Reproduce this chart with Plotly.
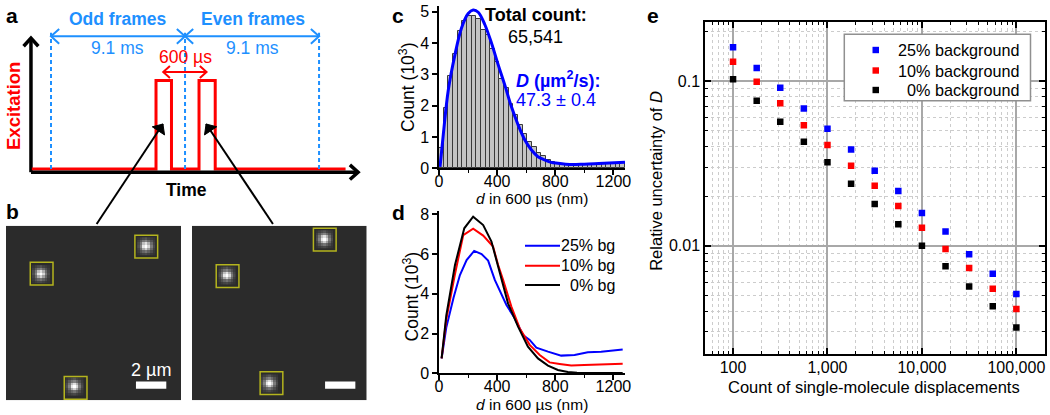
import math
import plotly.graph_objects as go

W, H = 1050, 415
FONT = "Liberation Sans"
BLUE, RED, BLACK = "#0000ff", "#ff0000", "#000000"
SKY = "#1e90ff"

# Panel a: timing schematic (ms, relative excitation)
frame_edges_ms = [0, 9.1, 18.2]
pulse_time_ms = [-1.3, 7.13, 7.13, 8.18, 8.18, 10.05, 10.05, 11.15, 11.15, 20.0]
pulse_level = [0, 0, 1, 1, 0, 0, 1, 1, 0, 0]
# Callout arrows from each pulse down to its image: tail, then head
callout_left_x = [3.10, 7.60]
callout_left_y = [-0.621, 0.508]
callout_right_x = [15.07, 10.53]
callout_right_y = [-0.621, 0.508]

# Panel b: fluorophore spots and boxes (micrometres)
spots_left_x = [2.29, 9.23, 4.50]
spots_left_y = [3.18, 1.34, 10.60]
spots_right_x = [8.77, 2.33, 5.14]
spots_right_y = [0.88, 3.27, 10.39]
boxes_left_x = [2.35, 9.25, 4.59]
boxes_left_y = [3.16, 1.38, 10.70]
boxes_right_x = [8.77, 2.35, 5.25]
boxes_right_y = [0.92, 3.32, 10.39]
# Brightness of a spot on the camera pixels around its centre
spot_brightness = [
    [0.05, 0.10, 0.15, 0.20, 0.12, 0.08, 0.05],
    [0.10, 0.22, 0.35, 0.42, 0.30, 0.18, 0.08],
    [0.15, 0.35, 0.70, 0.85, 0.62, 0.30, 0.12],
    [0.18, 0.42, 0.88, 1.00, 0.80, 0.38, 0.15],
    [0.12, 0.30, 0.60, 0.78, 0.55, 0.28, 0.10],
    [0.08, 0.18, 0.28, 0.35, 0.25, 0.15, 0.06],
    [0.04, 0.08, 0.12, 0.14, 0.10, 0.06, 0.04],
]

# Panel c: histogram and fit
hist_x = [16 + 32 * i for i in range(40)]
hist_y = [0.65, 1.92, 2.95, 3.66, 4.37, 4.70, 4.85, 4.85, 4.78, 4.42, 4.25, 3.80, 3.40, 2.85, 2.55, 2.05,
          1.70, 1.38, 1.10, 0.85, 0.68, 0.48, 0.38, 0.27, 0.20, 0.17, 0.14, 0.13, 0.13, 0.13, 0.13, 0.14,
          0.14, 0.15, 0.15, 0.16, 0.16, 0.17, 0.17, 0.17]
fit_x = [7, 30, 64, 110, 155, 201, 235, 270, 315, 361, 407, 452, 498, 544, 590, 635, 681, 727, 772, 818, 900, 1000, 1100, 1280]
fit_y = [0.05, 1.10, 2.50, 3.63, 4.48, 4.94, 5.05, 4.98, 4.59, 4.00, 3.31, 2.67, 1.97, 1.39, 0.91, 0.59, 0.37, 0.27, 0.19, 0.16, 0.12, 0.13, 0.15, 0.19]

# Panel d: curves
blue_x = [18, 50, 100, 144, 190, 242, 293, 338, 384, 464, 521, 578, 624, 670, 750, 841, 933, 1024, 1116, 1264]
blue_y = [0.75, 2.30, 3.80, 4.95, 5.70, 6.16, 6.00, 5.67, 4.70, 3.44, 2.77, 1.93, 1.68, 1.29, 1.09, 0.89, 0.92, 1.06, 1.09, 1.20]
red_x = [18, 50, 110, 167, 235, 304, 372, 407, 441, 498, 555, 624, 693, 761, 830, 910, 1000, 1100, 1264]
red_y = [0.75, 2.70, 5.00, 6.96, 7.28, 6.93, 6.38, 5.45, 4.70, 3.36, 2.27, 1.43, 0.92, 0.55, 0.47, 0.39, 0.42, 0.45, 0.48]
black_x = [18, 50, 110, 174, 235, 304, 361, 402, 441, 475, 544, 612, 681, 750, 818, 887, 950, 1000, 1100, 1264]
black_y = [0.75, 2.90, 5.45, 7.30, 7.88, 7.46, 6.63, 5.54, 4.53, 3.52, 2.35, 1.34, 0.75, 0.39, 0.17, 0.07, 0.03, 0.02, 0.01, 0.01]

# Panel e: uncertainty against count
counts = [100, 178, 316, 562, 1000, 1778, 3162, 5623, 10000, 17783, 31623, 56234, 100000]
bg25 = [0.160, 0.120, 0.0910, 0.0680, 0.0513, 0.0383, 0.0285, 0.0215, 0.0158, 0.01217, 0.00887, 0.00676, 0.00508]
bg10 = [0.131, 0.099, 0.0733, 0.0538, 0.0408, 0.0306, 0.0231, 0.0174, 0.01285, 0.00955, 0.00733, 0.00548, 0.00413]
bg0 = [0.1024, 0.0757, 0.0566, 0.0428, 0.0321, 0.0238, 0.0179, 0.01349, 0.0100, 0.0075, 0.00564, 0.00428, 0.00318]


def dx(a, b):
    return [a / W, b / W]


def dy(top, bottom):
    return [1 - bottom / H, 1 - top / H]


fig = go.Figure()
annotations = []
shapes = []


def label(px, py, text, size=17, color=BLACK, bold=False, angle=0, anchor="center"):
    annotations.append(dict(
        x=px / W, y=1 - py / H, xref="paper", yref="paper", text=f"<b>{text}</b>" if bold else text,
        showarrow=False, xanchor=anchor, yanchor="middle", textangle=angle,
        font=dict(family=FONT, size=size, color=color)))


# Panel a ------------------------------------------------------------------
A_SX, A_SY = 14.73, 88.5


def a_line(xs, ys, color, width=3, dash="solid", fill=None):
    fig.add_trace(go.Scatter(x=xs, y=ys, mode="lines", xaxis="x", yaxis="y", showlegend=False,
                             cliponaxis=False, hoverinfo="skip", fill=fill, fillcolor=color,
                             line=dict(color=color, width=width, dash=dash)))


def head_points(x, y, ux, uy, size):
    xs, ys = [], []
    for sign in (-1, 1):
        t = math.atan2(uy, ux) + math.pi + sign * math.radians(42)
        xs.append(x + size * math.cos(t) / A_SX)
        ys.append(y + size * math.sin(t) / A_SY)
    return [xs[0], x, xs[1]], [ys[0], y, ys[1]]


def chevron(x, y, ux, uy, size, color, width):
    xs, ys = head_points(x, y, ux, uy, size)
    a_line(xs, ys, color, width)


AXIS_Y = -0.036
AXIS_X = -1.36
a_line([AXIS_X, AXIS_X], [AXIS_Y, 1.48], BLACK, 3.5)
chevron(AXIS_X, 1.48, 0, 1, 11, BLACK, 3.5)
a_line(pulse_time_ms, pulse_level, RED, 3)
a_line([AXIS_X, 20.85], [AXIS_Y, AXIS_Y], BLACK, 3.5)
chevron(20.85, AXIS_Y, 1, 0, 11, BLACK, 3.5)
for e in frame_edges_ms:
    a_line([e, e], [0, 1.54], SKY, 2, "4px,3px")
ARROW_LEVEL = 1.50
for left, right in zip(frame_edges_ms[:-1], frame_edges_ms[1:]):
    a_line([left, right], [ARROW_LEVEL, ARROW_LEVEL], SKY, 2)
    chevron(left, ARROW_LEVEL, -1, 0, 11, SKY, 2)
    chevron(right, ARROW_LEVEL, 1, 0, 11, SKY, 2)
a_line([7.62, 10.56], [1.096, 1.096], RED, 2)
chevron(7.62, 1.096, -1, 0, 9, RED, 2)
chevron(10.56, 1.096, 1, 0, 9, RED, 2)
for cx, cy in [(callout_left_x, callout_left_y), (callout_right_x, callout_right_y)]:
    a_line(cx, cy, BLACK, 2)
    ux = (cx[1] - cx[0]) * A_SX
    uy = (cy[1] - cy[0]) * A_SY
    hx, hy = head_points(cx[1], cy[1], ux, uy, 11)
    a_line(hx + hx[:1], hy + hy[:1], BLACK, 1, fill="toself")

label(117.7, 19, "Odd frames", 17.5, SKY, True)
label(252.7, 19, "Even frames", 17.5, SKY, True)
label(117.7, 47.7, "9.1 ms", 17.5, SKY)
label(252.3, 47.7, "9.1 ms", 17.5, SKY)
label(185, 56.7, "600 µs", 17.5, RED)
label(13, 106, "Excitation", 18.5, RED, True, -90)
label(186, 189.5, "Time", 17.5, BLACK, True)
for px, py, t in [(12, 15.7, "a"), (12.7, 211, "b"), (398, 15, "c"), (398, 212, "d"), (653, 15.7, "e")]:
    label(px, py, t, 21, BLACK, True)

# Panel b ------------------------------------------------------------------
IMG_W, IMG_H, BOX, BAR = 11.54, 11.52, 1.5, 2.0
CAM_PIXEL = 0.165
IMAGE_BG = "#2b2b2b"
YELLOW = "#b4b41e"
panels = [("x2", "y2", spots_left_x, spots_left_y, boxes_left_x, boxes_left_y, 8.57),
          ("x3", "y3", spots_right_x, spots_right_y, boxes_right_x, boxes_right_y, 8.79)]
for xa, ya, sx, sy, bx, by, bar_x in panels:
    shapes.append(dict(type="rect", xref=xa, yref=ya, x0=0, x1=IMG_W, y0=0, y1=IMG_H,
                       fillcolor=IMAGE_BG, line=dict(width=0), layer="below"))
    for cx, cy in zip(sx, sy):
        fig.add_trace(go.Heatmap(z=spot_brightness, x0=cx - 3 * CAM_PIXEL, dx=CAM_PIXEL,
                                 y0=cy - 3 * CAM_PIXEL, dy=CAM_PIXEL, xaxis=xa, yaxis=ya, zmin=0, zmax=1,
                                 colorscale=[[0, IMAGE_BG], [1, "#ffffff"]], showscale=False, hoverinfo="skip"))
    for cx, cy in zip(bx, by):
        shapes.append(dict(type="rect", xref=xa, yref=ya, x0=cx - BOX / 2, x1=cx + BOX / 2,
                           y0=cy - BOX / 2, y1=cy + BOX / 2, line=dict(color=YELLOW, width=1.5)))
    shapes.append(dict(type="rect", xref=xa, yref=ya, x0=bar_x, x1=bar_x + BAR, y0=10.28, y1=10.75,
                       fillcolor="#ffffff", line=dict(width=0)))
label(151, 370, "2 µm", 18, "#ffffff")

# Panel c ------------------------------------------------------------------
fig.add_trace(go.Bar(x=hist_x, y=hist_y, width=32, xaxis="x4", yaxis="y4", showlegend=False,
                     marker=dict(color="#c4c4c4", line=dict(color="#3a3a3a", width=1))))
fig.add_trace(go.Scatter(x=fit_x, y=fit_y, mode="lines", xaxis="x4", yaxis="y4", showlegend=False,
                         line=dict(color=BLUE, width=3, shape="spline")))
label(536, 15, "Total count:", 18, BLACK, True)
label(535, 36.7, "65,541", 18)
label(558.3, 79.3, "<i>D</i> (µm<sup>2</sup>/s):", 18, BLUE, True)
label(555.7, 100, "47.3 ± 0.4", 18, BLUE)
label(531.7, 198.5, "<i>d</i> in 600 µs (nm)", 15.5)
label(407, 87, "Count (10<sup>3</sup>)", 17.5, angle=-90)

# Panel d ------------------------------------------------------------------
legend_d_names = ["25% bg", "10% bg", "0% bg"]
legend_d_rows = [245.7, 265.7, 285]
for name, xs, ys, col, row in zip(legend_d_names, [blue_x, red_x, black_x], [blue_y, red_y, black_y],
                                  [BLUE, RED, BLACK], legend_d_rows):
    fig.add_trace(go.Scatter(x=xs, y=ys, mode="lines", name=name, xaxis="x5", yaxis="y5", showlegend=False,
                             line=dict(color=col, width=2)))
    shapes.append(dict(type="line", xref="paper", yref="paper", x0=525 / W, x1=560 / W,
                       y0=1 - row / H, y1=1 - row / H, line=dict(color=col, width=2)))
    label(616.7, row, name, 16, anchor="right")
label(531.7, 404.5, "<i>d</i> in 600 µs (nm)", 15.5)
label(410.7, 296.7, "Count (10<sup>3</sup>)", 17.5, angle=-90)

# Panel e ------------------------------------------------------------------
legend_e_names = ["25% background", "10% background", "0% background"]
legend_e_rows = [50, 70.5, 90]
for name, ys, col in zip(legend_e_names, [bg25, bg10, bg0], [BLUE, RED, BLACK]):
    fig.add_trace(go.Scatter(x=counts, y=ys, mode="markers", name=name, xaxis="x6", yaxis="y6", showlegend=False,
                             marker=dict(symbol="square", size=6.5, color=col)))
shapes.append(dict(type="rect", xref="paper", yref="paper", x0=844.3 / W, x1=1030.5 / W,
                   y0=1 - 100.7 / H, y1=1 - 34.3 / H, fillcolor="white", line=dict(color="#909090", width=1.5)))
for name, col, row in zip(legend_e_names, [BLUE, RED, BLACK], legend_e_rows):
    shapes.append(dict(type="rect", xref="paper", yref="paper", x0=872.5 / W, x1=879 / W,
                       y0=1 - (row + 3.2) / H, y1=1 - (row - 3.2) / H, fillcolor=col, line=dict(width=0)))
    label(1022, row, name, 16.2, anchor="right")
label(874.3, 386.7, "Count of single-molecule displacements", 16.5)
label(655.3, 180.5, "Relative uncertainty of <i>D</i>", 16.5, angle=-90)

tickfont = dict(family=FONT, size=16, color=BLACK)


def linear_axis(domain, rng, anchor, **kw):
    return dict(domain=domain, range=rng, anchor=anchor, showgrid=False, zeroline=False, showline=True,
                linecolor=BLACK, linewidth=1.5, ticks="outside", ticklen=5, tickwidth=1.5, automargin=False,
                tickcolor=BLACK, tickfont=tickfont, **kw)


hidden = dict(visible=False, showgrid=False, zeroline=False, automargin=False)
minor_x = dict(dtick=200, ticks="outside", ticklen=3, tickwidth=1, tickcolor=BLACK)
log_minor = dict(dtick="D1", ticks="inside", ticklen=3, tickwidth=1, tickcolor=BLACK,
                 showgrid=True, gridcolor="#cccccc", griddash="dot", gridwidth=1)
log_common = dict(showline=True, linecolor=BLACK, linewidth=1.5, mirror="ticks", ticks="inside", ticklen=6,
                  tickwidth=1.5, tickcolor=BLACK, tickfont=tickfont, showgrid=True, gridcolor="#a8a8a8",
                  gridwidth=1.5, zeroline=False, minor=log_minor, automargin=False, dtick=1)

fig.update_layout(
    width=W, height=H, autosize=False, margin=dict(l=0, r=0, t=0, b=0), showlegend=False,
    paper_bgcolor="white", plot_bgcolor="rgba(0,0,0,0)", barmode="overlay", bargap=0,
    font=dict(family=FONT, size=17, color=BLACK),
    annotations=annotations, shapes=shapes,
    xaxis=dict(domain=dx(20, 365), range=[-2.105, 21.32], anchor="y", **hidden),
    yaxis=dict(domain=dy(20, 226), range=[-0.644, 1.684], anchor="x", **hidden),
    xaxis2=dict(domain=dx(6, 181), range=[0, IMG_W], anchor="y2", **hidden),
    yaxis2=dict(domain=dy(225.7, 400.3), range=[IMG_H, 0], anchor="x2", **hidden),
    xaxis3=dict(domain=dx(192, 366.7), range=[0, IMG_W], anchor="y3", **hidden),
    yaxis3=dict(domain=dy(225.7, 400.3), range=[IMG_H, 0], anchor="x3", **hidden),
    xaxis4=linear_axis(dx(439, 625), [0, 1280], "y4", tickvals=[0, 400, 800, 1200], minor=minor_x,
                       ticklabelstandoff=-7),
    yaxis4=linear_axis(dy(6, 168.3), [0, 5.18], "x4", tickvals=[0, 1, 2, 3, 4, 5]),
    xaxis5=linear_axis(dx(439, 625), [0, 1280], "y5", tickvals=[0, 400, 800, 1200], minor=minor_x,
                       ticklabelstandoff=-7),
    yaxis5=linear_axis(dy(211, 373.3), [0, 8.17], "x5", tickvals=[0, 2, 4, 6, 8]),
    xaxis6=dict(domain=dx(705, 1044.5), type="log", range=[1.703, 5.298], anchor="y6", tickformat=",d",
                ticklabelstandoff=-2, **log_common),
    yaxis6=dict(domain=dy(22, 353.7), type="log", range=[-2.656, -0.642], anchor="x6", tickformat=".2~f",
                **log_common),
)

fig.write_html("out.html", config={"displayModeBar": False}, post_script="document.body.style.margin='0';")
